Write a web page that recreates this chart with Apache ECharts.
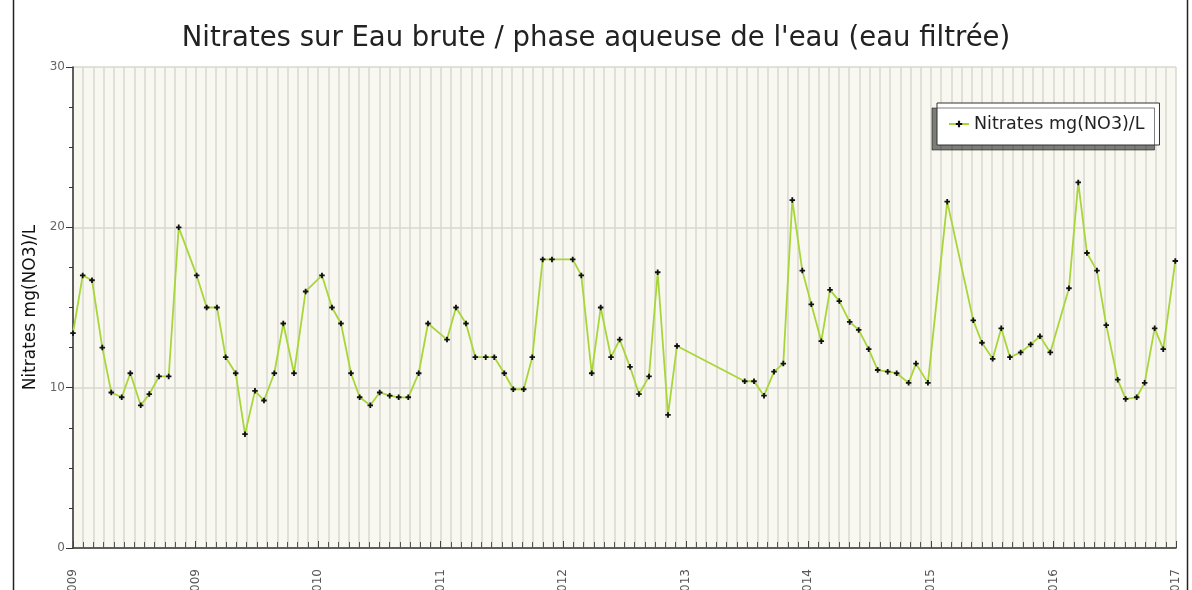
<!DOCTYPE html>
<html>
<head>
<meta charset="utf-8">
<script src="https://cdn.jsdelivr.net/npm/echarts@6/dist/echarts.min.js"></script>
<style>
html,body{margin:0;padding:0;background:#fff;}
#c{width:1192px;height:590px;}
</style>
</head>
<body>
<div id="c"></div>
<script>
// Tick labels of the time axis (one per year boundary)
const yearLabels = ['2009','2009','2010','2011','2012','2013','2014','2015','2016','2017'];
// Sample time, in months from the start of the axis
const months = [0.0,0.95,1.86,2.87,3.75,4.77,5.61,6.63,7.47,8.42,9.37,10.35,12.11,13.09,14.1,14.95,15.93,16.84,17.82,18.7,19.71,20.59,21.64,22.78,24.38,25.36,26.24,27.22,28.07,29.11,30.03,31.01,31.89,32.83,33.85,34.76,36.62,37.5,38.48,39.39,40.41,41.25,42.23,43.11,44.13,44.97,45.99,46.9,48.93,49.77,50.79,51.67,52.68,53.53,54.54,55.42,56.4,57.25,58.26,59.14,65.77,66.68,67.66,68.64,69.55,70.43,71.41,72.29,73.27,74.12,75.03,76.05,76.93,77.91,78.79,79.77,80.65,81.82,82.54,83.71,85.6,88.15,89.0,90.05,90.89,91.74,92.79,93.77,94.68,95.69,97.52,98.43,99.28,100.26,101.17,102.29,103.07,104.15,104.93,105.91,106.75,107.93];
// Nitrates mg(NO3)/L
const nitrates = [13.4,17.0,16.7,12.5,9.7,9.4,10.9,8.9,9.6,10.7,10.7,20.0,17.0,15.0,15.0,11.9,10.9,7.1,9.8,9.2,10.9,14.0,10.9,16.0,17.0,15.0,14.0,10.9,9.4,8.9,9.7,9.5,9.4,9.4,10.9,14.0,13.0,15.0,14.0,11.9,11.9,11.9,10.9,9.9,9.9,11.9,18.0,18.0,18.0,17.0,10.9,15.0,11.9,13.0,11.3,9.6,10.7,17.2,8.3,12.6,10.4,10.4,9.5,11.0,11.5,21.7,17.3,15.2,12.9,16.1,15.4,14.1,13.6,12.4,11.1,11.0,10.9,10.3,11.5,10.3,21.6,14.2,12.8,11.8,13.7,11.9,12.2,12.7,13.2,12.2,16.2,22.8,18.4,17.3,13.9,10.5,9.3,9.4,10.3,13.7,12.4,17.9];
const seriesName = 'Nitrates mg(NO3)/L';
const title = "Nitrates sur Eau brute / phase aqueuse de l'eau (eau filtrée)";

const chart = echarts.init(document.getElementById('c'), null, {renderer:'canvas'});
const FONT = 'DejaVu Sans';
chart.setOption({
  animation:false,
  backgroundColor:'#ffffff',
  title:{
    text:title, left:'center', top:20,
    textStyle:{fontFamily:FONT, fontSize:27.5, fontWeight:'normal', color:'#222'}
  },
  graphic:[
    {type:'line', shape:{x1:13.5,y1:0,x2:13.5,y2:590}, style:{stroke:'#222', lineWidth:1.5}},
    {type:'line', shape:{x1:1187.5,y1:0,x2:1187.5,y2:590}, style:{stroke:'#222', lineWidth:1.5}}
  ],
  legend:{
    left:937, top:103,
    orient:'vertical',
    padding:[12,15,12,11],
    backgroundColor:'#fff',
    borderColor:'#333', borderWidth:1,
    shadowColor:'rgba(0,0,0,0.5)', shadowBlur:0, shadowOffsetX:-5, shadowOffsetY:5,
    itemWidth:20, itemHeight:8,
    textStyle:{fontFamily:FONT, fontSize:17.5, color:'#222'},
    data:[seriesName]
  },
  grid:{
    left:73, right:16, top:67, bottom:42,
    containLabel:false, outerBoundsMode:'none',
    show:true, backgroundColor:'#f8f8f0', borderWidth:0
  },
  xAxis:{
    type:'value', min:0, max:108, interval:12,
    axisLine:{show:true, lineStyle:{color:'#333', width:1.5}},
    axisTick:{show:true, inside:true, length:7, lineStyle:{color:'#444'}},
    minorTick:{show:true, splitNumber:12, length:6, lineStyle:{color:'#555'}},
    splitLine:{show:true, lineStyle:{color:'#d8d8d0', width:1.5}},
    minorSplitLine:{show:true, lineStyle:{color:'#d8d8d0', width:1.5}},
    axisLabel:{
      rotate:90, margin:21, fontFamily:FONT, fontSize:12, color:'#555',
      formatter:function(v){ return yearLabels[Math.round(v/12)] || ''; }
    }
  },
  yAxis:{
    type:'value', min:0, max:30, interval:10,
    name:'Nitrates mg(NO3)/L', nameLocation:'middle', nameGap:34,
    nameTextStyle:{fontFamily:FONT, fontSize:17, color:'#111'},
    axisLine:{show:true, lineStyle:{color:'#333', width:1.5}},
    axisTick:{show:true, length:7, lineStyle:{color:'#333'}},
    minorTick:{show:true, splitNumber:4, length:4, lineStyle:{color:'#333'}},
    splitLine:{show:true, lineStyle:{color:'#d8d8d0', width:1.5}},
    axisLabel:{fontFamily:FONT, fontSize:12, color:'#666', margin:8}
  },
  series:[{
    name:seriesName,
    type:'line',
    data:months.map((m,i)=>[m, nitrates[i]]),
    symbol:'path://M2,0H4V2H6V4H4V6H2V4H0V2H2Z',
    symbolSize:5.5,
    showAllSymbol:true,
    itemStyle:{color:'#111'},
    lineStyle:{color:'#a8d63a', width:1.8},
    z:3
  }]
});
</script>
</body>
</html>
